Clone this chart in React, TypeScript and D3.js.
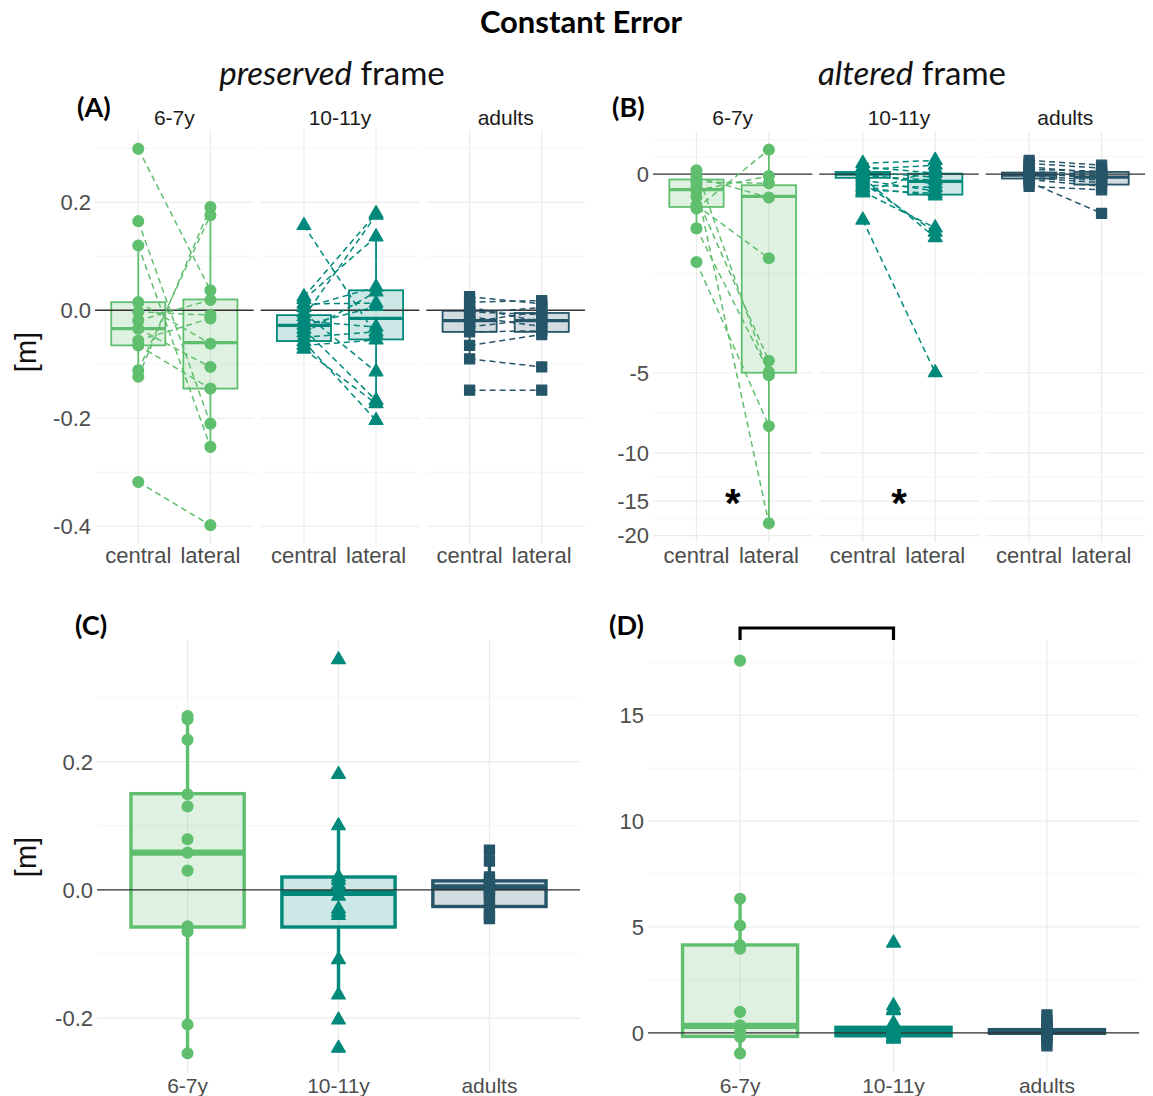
import React from "react";
import * as d3 from "d3";

const groups = ["6-7y", "10-11y", "adults"];
const conditions = ["central", "lateral"];
const groupColors = ["#5fbf6e", "#00897b", "#245569"];
const groupShapes = [d3.symbolCircle, d3.symbolTriangle, d3.symbolSquare];
const shapeSizes = [92, 82, 100];

// (A) preserved frame, one entry per participant (same index = same child)
const presYoungC = [0.299, 0.165, 0.12, 0.015, -0.003, -0.019, -0.034, -0.056, -0.065, -0.111, -0.123, -0.318];
const presYoungL = [0.037, -0.21, -0.253, -0.062, -0.009, 0.019, -0.105, -0.015, -0.145, 0.176, 0.191, -0.398];
const presMidC = [0.157, 0.025, 0.02, 0.012, 0.005, -0.005, -0.012, -0.02, -0.028, -0.035, -0.042, -0.05, -0.058, -0.065, -0.072];
const presMidL = [-0.046, 0.179, 0.136, 0.013, 0.043, -0.114, 0.176, -0.031, 0.007, -0.167, 0.034, -0.04, -0.204, -0.055, -0.173];
const presAdultC = [0.025, 0.015, 0.006, -0.003, -0.005, -0.012, -0.022, -0.031, -0.04, -0.065, -0.09, -0.148];
const presAdultL = [0.012, 0.018, -0.022, -0.008, 0.005, -0.03, -0.002, -0.015, -0.038, -0.045, -0.105, -0.148];

// box stats: [q1, median, q3, lower whisker, upper whisker]
const presYoungCBox = [-0.065, -0.034, 0.015, -0.123, 0.12];
const presYoungLBox = [-0.145, -0.06, 0.02, -0.253, 0.191];
const presMidCBox = [-0.057, -0.028, -0.009, -0.072, 0.025];
const presMidLBox = [-0.054, -0.015, 0.037, -0.173, 0.136];
const presAdultCBox = [-0.04, -0.019, -0.001, -0.09, 0.025];
const presAdultLBox = [-0.04, -0.019, -0.005, -0.045, 0.018];

// (B) altered frame
const altYoungC = [0.066, -0.045, -0.128, -0.211, -0.267, -0.379, -0.52, -0.578, -0.93, -1.59];
const altYoungL = [-5.11, -0.39, -0.15, -18.06, -0.03, -4.49, -1.51, 0.41, -4.97, -7.96];
const altMidC = [0.18, 0.12, 0.08, 0.04, 0.0, -0.03, -0.06, -0.1, -0.14, -0.18, -0.22, -0.26, -0.29, -0.31, -0.78];
const altMidL = [0.23, 0.02, 0.15, -0.05, -0.16, -0.1, -1.1, -0.28, -1.0, -0.22, -0.36, -0.32, -0.92, 0.08, -5.0];
const altAdultC = [0.23, 0.18, 0.12, 0.08, 0.04, 0.02, 0.0, -0.03, -0.06, -0.09, -0.13, -0.2];
const altAdultL = [0.15, 0.1, 0.02, 0.05, 0.0, -0.07, -0.03, -0.1, -0.14, -0.2, -0.66, -0.26];

const altYoungCBox = [-0.55, -0.255, -0.088, -0.93, 0.066];
const altYoungLBox = [-5.0, -0.37, -0.183, -18.06, 0.41];
const altMidCBox = [-0.06, 0.0, 0.038, -0.31, 0.18];
const altMidLBox = [-0.34, -0.12, 0.01, -0.36, 0.23];
const altAdultCBox = [-0.072, -0.017, 0.028, -0.2, 0.23];
const altAdultLBox = [-0.172, -0.05, 0.038, -0.26, 0.15];

// (C) preserved frame, lateral - central
const diffPresYoung = [0.271, 0.266, 0.234, 0.149, 0.13, 0.079, 0.058, 0.03, -0.057, -0.065, -0.21, -0.255];
const diffPresMid = [0.359, 0.18, 0.1, 0.02, 0.015, 0.008, 0.0, -0.01, -0.03, -0.035, -0.04, -0.109, -0.164, -0.203, -0.247];
const diffPresAdult = [0.062, 0.045, 0.02, 0.015, 0.01, 0.005, 0.0, -0.005, -0.01, -0.02, -0.03, -0.04, -0.045];
const diffPresYoungBox = [-0.058, 0.058, 0.15, -0.255, 0.271];
const diffPresMidBox = [-0.058, -0.005, 0.02, -0.164, 0.1];
const diffPresAdultBox = [-0.026, 0.004, 0.014, -0.045, 0.062];

// (D) altered frame
const diffAltYoung = [17.58, 6.33, 5.07, 4.13, 3.97, 0.99, 0.36, 0.05, -0.2, -0.97];
const diffAltMid = [4.24, 1.28, 1.1, 1.05, 0.45, 0.3, 0.2, 0.1, 0.05, 0.0, -0.05, -0.1, -0.18, -0.25, -0.3];
const diffAltAdult = [0.85, 0.6, 0.4, 0.3, 0.2, 0.1, 0.05, 0.0, -0.1, -0.2, -0.4, -0.62];
const diffAltYoungBox = [-0.17, 0.33, 4.15, -0.97, 6.33];
const diffAltMidBox = [-0.14, 0.05, 0.26, -0.3, 0.45];
const diffAltAdultBox = [-0.02, 0.05, 0.15, -0.3, 0.4];

const ticksA = [-0.4, -0.2, 0, 0.2];
const ticksB = [-20, -15, -10, -5, 0];
const ticksC = [-0.2, 0, 0.2];
const ticksD = [0, 5, 10, 15];

const starLevel = -13.9; // where the * sits in (B)
const starGroups = ["6-7y", "10-11y"];
const bracketGroups = ["6-7y", "10-11y"];

const font = "'Liberation Sans', Arial, Helvetica, sans-serif";
const headFont = "Lato, 'Open Sans', sans-serif";
const tickColor = "#4d4d4d";

const paddedDomain = (vals: number[], tf = (v: number) => v): [number, number] => {
  const [lo, hi] = d3.extent(vals.map(tf)) as [number, number];
  const pad = (hi - lo) * 0.05;
  return [lo - pad, hi + pad];
};

// ggplot style minor breaks, in transformed space
const minorBreaks = (major: number[], dom: [number, number]) => {
  const b = [...major].sort((a, c) => a - c);
  const d = b[1] - b[0];
  if (dom[0] < b[0]) b.unshift(b[0] - d);
  if (dom[1] > b[b.length - 1]) b.push(b[b.length - 1] + d);
  const out: number[] = [];
  for (let i = 0; i < b.length - 1; i++) out.push((b[i] + b[i + 1]) / 2);
  b.forEach((v) => {
    if (!major.some((m) => Math.abs(m - v) < 1e-9)) out.push(v);
  });
  return out.filter((v) => v >= dom[0] && v <= dom[1]);
};

const symbolPath = (gi: number) =>
  d3.symbol().type(groupShapes[gi]).size(shapeSizes[gi])() as string;

function Box({ cx, half, s, y, color, sw }: any) {
  const [q1, med, q3, lo, hi] = s;
  return (
    <g>
      <line x1={cx} x2={cx} y1={y(q3)} y2={y(hi)} stroke={color} strokeWidth={sw} />
      <line x1={cx} x2={cx} y1={y(q1)} y2={y(lo)} stroke={color} strokeWidth={sw} />
      <rect
        x={cx - half}
        width={2 * half}
        y={y(q3)}
        height={Math.max(0.5, y(q1) - y(q3))}
        fill={color}
        fillOpacity={0.2}
        stroke={color}
        strokeWidth={sw}
      />
      <line x1={cx - half} x2={cx + half} y1={y(med)} y2={y(med)} stroke={color} strokeWidth={sw * 1.8} />
    </g>
  );
}

function Point({ x, y, gi }: any) {
  return (
    <path
      d={symbolPath(gi)}
      transform={`translate(${x},${y})`}
      fill={groupColors[gi]}
      stroke={groupColors[gi]}
      strokeWidth={1.3}
      strokeLinejoin="round"
    />
  );
}

function HGrid({ x0, x1, majors, minors }: any) {
  return (
    <g>
      {minors.map((p: number, i: number) => (
        <line key={"mn" + i} x1={x0} x2={x1} y1={p} y2={p} stroke="#f2f2f2" strokeWidth={0.8} />
      ))}
      {majors.map((p: number, i: number) => (
        <line key={"mj" + i} x1={x0} x2={x1} y1={p} y2={p} stroke="#ebebeb" strokeWidth={1.2} />
      ))}
    </g>
  );
}

function PairedPanel({ frame, y, tf, ticks, fmt, data, boxes, stars }: any) {
  const gap = 7;
  const fw = (frame.right - frame.left - 2 * gap) / 3;
  const yt = (v: number) => y(v);
  const dom = [y.invertT(frame.bottom), y.invertT(frame.top)] as [number, number];
  const majorPx = ticks.map((t: number) => yt(t));
  const minorPx = minorBreaks(ticks.map(tf), dom).map((t: number) => y.fromT(t));
  return (
    <g>
      {ticks.map((t: number, i: number) => (
        <text key={"yt" + i} x={frame.left - 4} y={yt(t)} dy="0.36em" textAnchor="end" fontFamily={font} fontSize={22} fill={tickColor}>
          {fmt(t)}
        </text>
      ))}
      {groups.map((g, gi) => {
        const fx0 = frame.left + gi * (fw + gap);
        const xs = d3.scalePoint().domain(conditions).range([fx0, fx0 + fw]).padding(0.6);
        const half = xs.step() * 0.375;
        const col = groupColors[gi];
        const [cen, lat] = data[gi];
        const xc = xs("central") as number;
        const xl = xs("lateral") as number;
        return (
          <g key={g}>
            <HGrid x0={fx0} x1={fx0 + fw} majors={majorPx} minors={minorPx} />
            {conditions.map((c) => (
              <line key={c} x1={xs(c)} x2={xs(c)} y1={frame.top} y2={frame.bottom} stroke="#ebebeb" strokeWidth={1.2} />
            ))}
            <text x={fx0 + fw / 2} y={125} textAnchor="middle" fontFamily={font} fontSize={21} fill="#1a1a1a">
              {g}
            </text>
            {conditions.map((c) => (
              <text key={"xl" + c} x={xs(c)} y={563} textAnchor="middle" fontFamily={font} fontSize={22} fill={tickColor}>
                {c}
              </text>
            ))}
            <Box cx={xc} half={half} s={boxes[gi][0]} y={yt} color={col} sw={1.8} />
            <Box cx={xl} half={half} s={boxes[gi][1]} y={yt} color={col} sw={1.8} />
            <line x1={fx0} x2={fx0 + fw} y1={yt(0)} y2={yt(0)} stroke="#333" strokeWidth={1.3} />
            {cen.map((v: number, i: number) => (
              <line key={"pl" + i} x1={xc} x2={xl} y1={yt(v)} y2={yt(lat[i])} stroke={col} strokeWidth={1.5} strokeDasharray="6 4" />
            ))}
            {cen.map((v: number, i: number) => (
              <Point key={"pc" + i} x={xc} y={yt(v)} gi={gi} />
            ))}
            {lat.map((v: number, i: number) => (
              <Point key={"plt" + i} x={xl} y={yt(v)} gi={gi} />
            ))}
            {stars && starGroups.includes(g) && (
              <text x={(xc + xl) / 2} y={yt(starLevel)} dy="0.62em" textAnchor="middle" fontFamily={font} fontWeight={700} fontSize={40} fill="#000">
                *
              </text>
            )}
          </g>
        );
      })}
    </g>
  );
}

function GroupPanel({ frame, y, ticks, fmt, data, boxes, bracket }: any) {
  const dom = y.domain() as [number, number];
  const xs = d3.scalePoint().domain(groups).range([frame.left, frame.right]).padding(0.6);
  const half = xs.step() * 0.375;
  return (
    <g>
      <HGrid x0={frame.left} x1={frame.right} majors={ticks.map((t: number) => y(t))} minors={minorBreaks(ticks, dom).map((t) => y(t))} />
      {groups.map((g) => (
        <line key={"vg" + g} x1={xs(g)} x2={xs(g)} y1={frame.top} y2={frame.bottom} stroke="#ebebeb" strokeWidth={1.2} />
      ))}
      {ticks.map((t: number, i: number) => (
        <text key={"yt" + i} x={frame.left - 4} y={y(t)} dy="0.36em" textAnchor="end" fontFamily={font} fontSize={22} fill={tickColor}>
          {fmt(t)}
        </text>
      ))}
      {groups.map((g) => (
        <text key={"xl" + g} x={xs(g)} y={1093} textAnchor="middle" fontFamily={font} fontSize={21} fill={tickColor}>
          {g}
        </text>
      ))}
      {groups.map((g, gi) => (
        <Box key={"bx" + g} cx={xs(g)} half={half} s={boxes[gi]} y={y} color={groupColors[gi]} sw={3.4} />
      ))}
      <line x1={frame.left} x2={frame.right} y1={y(0)} y2={y(0)} stroke="#333" strokeWidth={1.3} />
      {groups.map((g, gi) =>
        data[gi].map((v: number, i: number) => <Point key={g + i} x={xs(g)} y={y(v)} gi={gi} />)
      )}
      {bracket && (
        <path
          d={`M${xs(bracketGroups[0])},${frame.top - 1} V${frame.top - 13} H${xs(bracketGroups[1])} V${frame.top - 1}`}
          fill="none"
          stroke="#000"
          strokeWidth={3.2}
        />
      )}
    </g>
  );
}

export default function App() {
  const frameA = { left: 95, right: 585, top: 130, bottom: 544 };
  const frameB = { left: 653, right: 1145, top: 131, bottom: 542 };
  const frameC = { left: 97, right: 580, top: 640, bottom: 1073 };
  const frameD = { left: 648, right: 1139, top: 641, bottom: 1073 };

  const allA = [...presYoungC, ...presYoungL, ...presMidC, ...presMidL, ...presAdultC, ...presAdultL];
  const allB = [...altYoungC, ...altYoungL, ...altMidC, ...altMidL, ...altAdultC, ...altAdultL];

  const ident = (v: number) => v;
  const linA = d3.scaleLinear().domain(paddedDomain(allA)).range([frameA.bottom, frameA.top]);
  const yA: any = (v: number) => linA(v);
  yA.invertT = (p: number) => linA.invert(p);
  yA.fromT = (t: number) => linA(t);

  // pseudo-log axis (asinh) for the altered frame
  const tB = (v: number) => Math.asinh(v / 2);
  const linB = d3.scaleLinear().domain(paddedDomain(allB, tB)).range([frameB.bottom, frameB.top]);
  const yB: any = (v: number) => linB(tB(v));
  yB.invertT = (p: number) => linB.invert(p);
  yB.fromT = (t: number) => linB(t);

  const yC = d3
    .scaleLinear()
    .domain(paddedDomain([...diffPresYoung, ...diffPresMid, ...diffPresAdult]))
    .range([frameC.bottom, frameC.top]);
  const yD = d3
    .scaleLinear()
    .domain(paddedDomain([...diffAltYoung, ...diffAltMid, ...diffAltAdult]))
    .range([frameD.bottom, frameD.top]);

  return (
    <svg width={1153} height={1096} style={{ position: "absolute", left: 0, top: 0, background: "#fff" }}>
      <rect width={1153} height={1096} fill="#fff" />
      <text x={581} y={33} textAnchor="middle" fontFamily={headFont} fontWeight={700} fontSize={31}>
        Constant Error
      </text>
      <text x={332} y={85} textAnchor="middle" fontFamily={headFont} fontSize={33} fill="#111">
        <tspan fontStyle="italic">preserved</tspan> frame
      </text>
      <text x={912} y={85} textAnchor="middle" fontFamily={headFont} fontSize={33} fill="#111">
        <tspan fontStyle="italic">altered</tspan> frame
      </text>
      <text x={77} y={117} fontFamily={headFont} fontWeight={700} fontSize={27}>(A)</text>
      <text x={612} y={117} fontFamily={headFont} fontWeight={700} fontSize={27}>(B)</text>
      <text x={75} y={635} fontFamily={headFont} fontWeight={700} fontSize={27}>(C)</text>
      <text x={609} y={635} fontFamily={headFont} fontWeight={700} fontSize={27}>(D)</text>
      <text transform="translate(36,352) rotate(-90)" textAnchor="middle" fontFamily={font} fontSize={29} fill="#111">[m]</text>
      <text transform="translate(36,857) rotate(-90)" textAnchor="middle" fontFamily={font} fontSize={29} fill="#111">[m]</text>

      <PairedPanel
        frame={frameA}
        y={yA}
        tf={ident}
        ticks={ticksA}
        fmt={(t: number) => t.toFixed(1)}
        data={[[presYoungC, presYoungL], [presMidC, presMidL], [presAdultC, presAdultL]]}
        boxes={[[presYoungCBox, presYoungLBox], [presMidCBox, presMidLBox], [presAdultCBox, presAdultLBox]]}
        stars={false}
      />
      <PairedPanel
        frame={frameB}
        y={yB}
        tf={tB}
        ticks={ticksB}
        fmt={(t: number) => String(t)}
        data={[[altYoungC, altYoungL], [altMidC, altMidL], [altAdultC, altAdultL]]}
        boxes={[[altYoungCBox, altYoungLBox], [altMidCBox, altMidLBox], [altAdultCBox, altAdultLBox]]}
        stars={true}
      />
      <GroupPanel
        frame={frameC}
        y={yC}
        ticks={ticksC}
        fmt={(t: number) => t.toFixed(1)}
        data={[diffPresYoung, diffPresMid, diffPresAdult]}
        boxes={[diffPresYoungBox, diffPresMidBox, diffPresAdultBox]}
        bracket={false}
      />
      <GroupPanel
        frame={frameD}
        y={yD}
        ticks={ticksD}
        fmt={(t: number) => String(t)}
        data={[diffAltYoung, diffAltMid, diffAltAdult]}
        boxes={[diffAltYoungBox, diffAltMidBox, diffAltAdultBox]}
        bracket={true}
      />
    </svg>
  );
}
